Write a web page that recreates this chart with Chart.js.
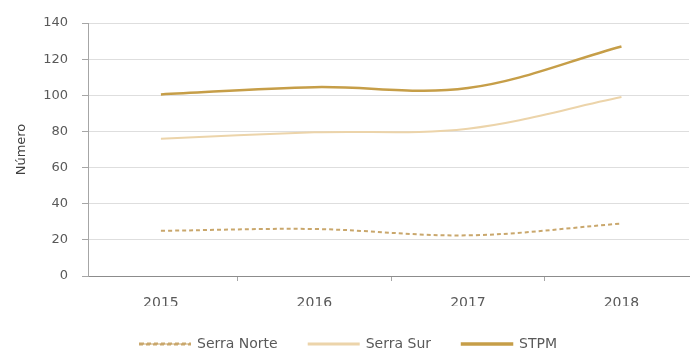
<!DOCTYPE html>
<html>
<head>
<meta charset="utf-8">
<script src="https://cdn.jsdelivr.net/npm/chart.js@4"></script>
<style>
    html, body { margin: 0; padding: 0; background: #fff; }
    #wrap { width: 691px; height: 361px; }
</style>
</head>
<body>
<div id="wrap"><canvas id="lineChart" width="691" height="361"></canvas></div>
<script>
// Years and series values
const years = [2015, 2016, 2017, 2018];
const serraNorte = [25, 26, 22.5, 29];
const serraSur = [76, 79.5, 81.5, 99];
const stpm = [100.5, 104.5, 104, 127];
const yTicks = [0, 20, 40, 60, 80, 100, 120, 140];

const labelColor = '#595959';

function toPoints(values) {
    return values.map((v, i) => ({ x: years[i], y: v }));
}

document.addEventListener('DOMContentLoaded', function () {
    createChart();
});

function createChart() {
    const ctx = document.getElementById('lineChart').getContext('2d');

    new Chart(ctx, {
        type: 'line',
        data: {
            datasets: [{
                label: 'Serra Norte',
                data: toPoints(serraNorte),
                borderColor: '#c9a76c',
                backgroundColor: '#c9a76c',
                borderWidth: 2,
                borderDash: [4, 3],
                tension: 0.35,
                pointRadius: 0
            }, {
                label: 'Serra Sur',
                data: toPoints(serraSur),
                borderColor: '#ecd4aa',
                backgroundColor: '#ecd4aa',
                borderWidth: 2,
                tension: 0.35,
                pointRadius: 0
            }, {
                label: 'STPM',
                data: toPoints(stpm),
                borderColor: '#c69e48',
                backgroundColor: '#c69e48',
                borderWidth: 2.5,
                tension: 0.35,
                pointRadius: 0
            }]
        },
        options: {
            responsive: false,
            animation: false,
            layout: {
                padding: { top: 23, right: 2, left: 8, bottom: 0 }
            },
            scales: {
                x: {
                    type: 'linear',
                    min: 2014.525,
                    max: 2018.44,
                    afterBuildTicks: function (scale) {
                        // year labels plus blank ticks on the band edges
                        const t = [];
                        years.forEach(y => {
                            t.push({ value: y });
                            t.push({ value: y + 0.5 });
                        });
                        scale.ticks = t.filter(k => k.value < scale.max);
                    },
                    afterFit: function (scale) {
                        scale.height = 30;
                    },
                    ticks: {
                        autoSkip: false,
                        maxRotation: 0,
                        padding: 14,
                        color: labelColor,
                        font: { family: 'DejaVu Sans', size: 14 },
                        callback: function (value) {
                            return Number.isInteger(value) ? String(value) : '';
                        }
                    },
                    grid: {
                        drawOnChartArea: false,
                        tickLength: 5,
                        color: function (c) {
                            return c.tick && Number.isInteger(c.tick.value) ? 'rgba(0,0,0,0)' : '#a6a6a6';
                        }
                    },
                    border: { color: '#8c8c8c', width: 1 }
                },
                y: {
                    min: 0,
                    max: 140,
                    afterBuildTicks: function (scale) {
                        scale.ticks = yTicks.map(v => ({ value: v }));
                    },
                    afterFit: function (scale) {
                        scale.width = 80;
                    },
                    ticks: {
                        padding: 14,
                        color: labelColor,
                        font: { family: 'DejaVu Sans', size: 13 }
                    },
                    grid: {
                        color: '#dedede',
                        tickLength: 6,
                        tickColor: '#a6a6a6'
                    },
                    border: { color: '#a6a6a6', width: 1 },
                    title: {
                        display: true,
                        text: 'Número',
                        color: '#404040',
                        padding: { top: 6, bottom: 0 },
                        font: { family: 'DejaVu Sans', size: 13 }
                    }
                }
            },
            plugins: {
                legend: {
                    position: 'bottom',
                    maxHeight: 57,
                    labels: {
                        boxWidth: 50,
                        boxHeight: 1,
                        padding: 31,
                        color: labelColor,
                        font: { family: 'DejaVu Sans', size: 14 }
                    }
                },
                tooltip: { enabled: false }
            }
        }
    });
}
</script>
</body>
</html>
